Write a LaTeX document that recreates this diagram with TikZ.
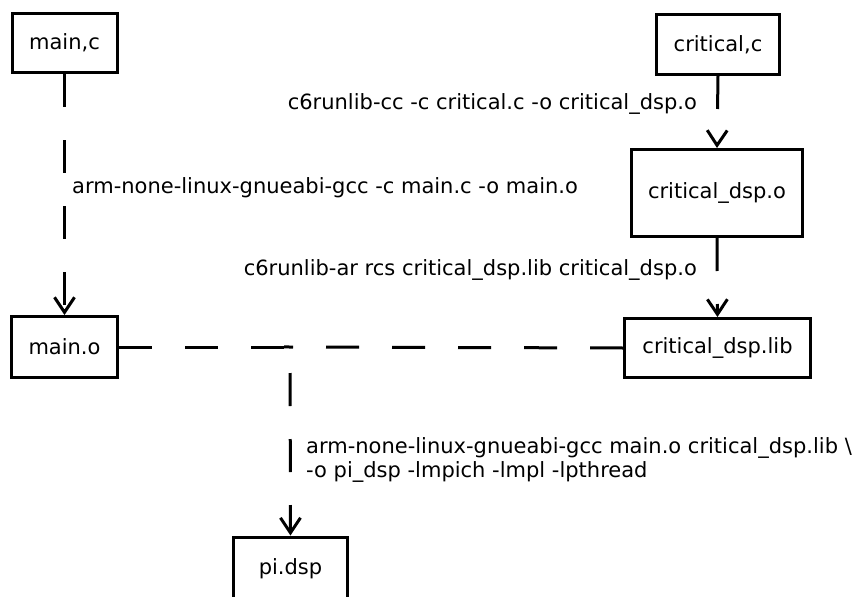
\documentclass[tikz,border=0pt]{standalone}
\usepackage{fontspec}
\setmainfont{DejaVu Sans}
\usetikzlibrary{arrows.meta}
\begin{document}
\begin{tikzpicture}[x=1pt,y=-1pt,
  every node/.style={font=\fontsize{21}{24}\selectfont},
  filebox/.style={draw,line width=3pt,inner sep=0pt,fill=white},
  flow/.style={line width=3pt,dash pattern=on 33pt off 33pt},
  tip/.style={-{Straight Barb[length=15pt,width=20pt]}},
  cmd/.style={inner sep=0pt,align=left}]
\useasboundingbox (0,0) rectangle (855,597);
% source and object files
\node[filebox,minimum width=105pt,minimum height=59pt] (mainc) at (64.5,43) {main,c};
\node[filebox,minimum width=123pt,minimum height=60pt] (critc) at (718,44.5) {critical,c};
\node[filebox,minimum width=171pt,minimum height=87pt] (critdo) at (717,193) {critical\_dsp.o};
\node[filebox,minimum width=186pt,minimum height=59pt] (critlib) at (717.5,348) {critical\_dsp.lib};
\node[filebox,minimum width=106pt,minimum height=61pt] (maino) at (64.5,347) {main.o};
\node[filebox,minimum width=114pt,minimum height=64pt] (pidsp) at (290.5,569) {pi.dsp};
\coordinate (link) at (290,347);
% build commands
\node[cmd,anchor=west] (ccmain) at (72,188) {arm-none-linux-gnueabi-gcc -c main.c -o main.o};
\node[cmd,anchor=east] (cccrit) at (697,104) {c6runlib-cc -c critical.c -o critical\_dsp.o};
\node[cmd,anchor=east] (arcrit) at (697,270) {c6runlib-ar rcs critical\_dsp.lib critical\_dsp.o};
\node[cmd,anchor=west] (ldpi) at (306,460) {arm-none-linux-gnueabi-gcc main.o critical\_dsp.lib \textbackslash\\-o pi\_dsp -lmpich -lmpl -lpthread};
% build steps
\draw[flow,tip] (mainc.south) -- (maino.north);
\draw[flow,tip] (critc.south) -- (critdo.north);
\draw[flow,tip] (critdo.south) -- (critlib.north);
\draw[flow] (maino.east) -- (link);
\draw[flow,shorten >=-6pt] (critlib.west) -- (link);
\draw[flow,tip,dash phase=40pt] (link) -- (pidsp.north);
\end{tikzpicture}
\end{document}
